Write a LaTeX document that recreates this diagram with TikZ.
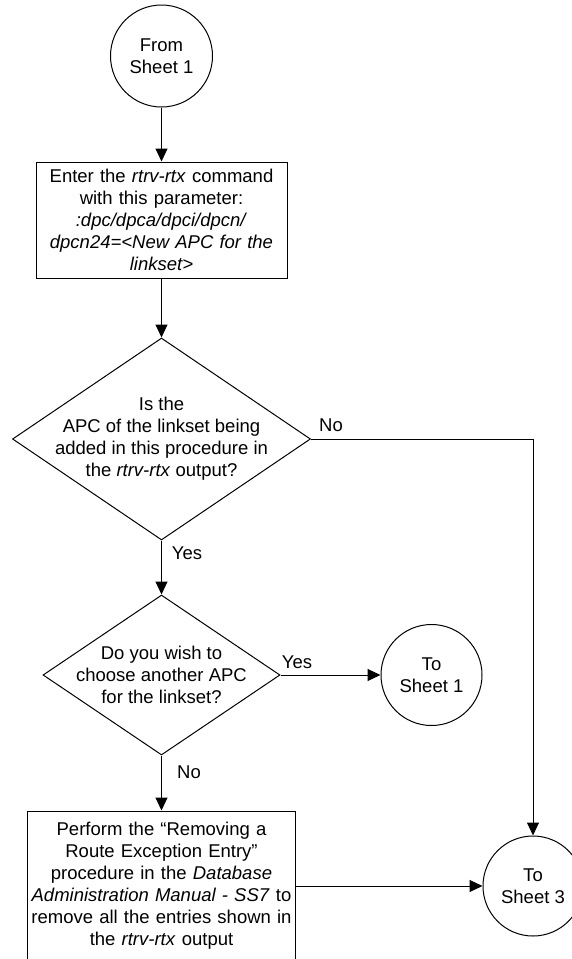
\documentclass[tikz,border=0pt]{standalone}
\usepackage{fontspec}
\setmainfont{Liberation Sans}
\usetikzlibrary{arrows.meta,shapes.geometric}

\begin{document}
\begin{tikzpicture}[
    x=1pt, y=-1pt,
    txt/.style={font=\fontsize{18.5}{22}\selectfont, text=black, align=center},
    flow/.style={-{Triangle[length=13pt,width=12pt]}, line width=1pt},
    connector/.style={circle, draw, line width=1pt, txt, inner sep=0pt},
    process/.style={rectangle, draw, line width=1pt, txt, inner xsep=1pt, inner ysep=4pt},
    decision/.style={diamond, draw, line width=1pt, inner sep=0pt},
    branch/.style={txt, inner sep=0pt},
]

\useasboundingbox (0,0) rectangle (572,959);

% Off-page connectors
\node[connector, minimum size=102pt] (from1) at (161.5,56) {From\\Sheet 1};
\node[connector, minimum size=101pt] (to1) at (431.5,675) {To\\Sheet 1};
\node[connector, minimum size=100pt] (to3) at (533,886) {To\\Sheet 3};

% Enter rtrv-rtx
\node[process, minimum width=251pt, minimum height=116pt, text width=249pt]
    (rtrv) at (161.5,220)
    {Enter the \textit{rtrv-rtx} command\\
     with this parameter:\\
     \textit{:dpc/dpca/dpci/dpcn/}\\
     \textit{dpcn24=<New APC for the}\\
     \textit{linkset>}};

% APC in output?
\node[decision, minimum width=298pt, minimum height=202pt] (apcq) at (161.5,439) {};
\node[txt] at (apcq.center)
    {Is the\\
     APC of the linkset being\\
     added in this procedure in\\
     the \textit{rtrv-rtx} output?};

% Choose another APC?
\node[decision, minimum width=237pt, minimum height=160pt] (againq) at (161.5,675) {};
\node[txt] at (againq.center)
    {Do you wish to\\
     choose another APC\\
     for the linkset?};

% Remove route exception entries
\node[process, minimum width=268pt, minimum height=150pt, text width=266pt]
    (remove) at (161.5,886)
    {Perform the “Removing a\\
     Route Exception Entry”\\
     procedure in the \textit{Database}\\
     \textit{Administration Manual - SS7} to\\
     remove all the entries shown in\\
     the \textit{rtrv-rtx} output};

% Connectors
\draw[flow] (from1) -- (rtrv);
\draw[flow] (rtrv) -- (apcq);
\draw[flow] (apcq.east) -| (to3.north);
\draw[flow] (apcq.south) -- (againq.north);
\draw[flow] (againq.east) -- (to1.west);
\draw[flow] (againq.south) -- (remove.north);
\draw[flow] (remove.east) -- (to3.west);

% Branch labels
\node[branch] at (331,425) {No};
\node[branch] at (187,553) {Yes};
\node[branch] at (297,662) {Yes};
\node[branch] at (189,772) {No};

\end{tikzpicture}
\end{document}
